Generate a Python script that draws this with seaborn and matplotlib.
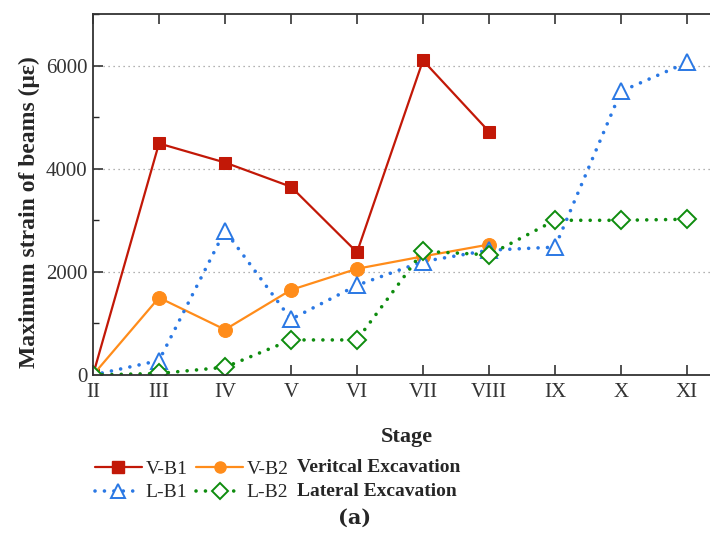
import matplotlib
matplotlib.use("Agg")
import matplotlib.pyplot as plt
import seaborn as sns
import pandas as pd
from matplotlib.lines import Line2D
from matplotlib.ticker import MultipleLocator

stages = ["II", "III", "IV", "V", "VI", "VII", "VIII", "IX", "X", "XI"]
v_b1 = [0, 4490, 4120, 3650, 2380, 6100, 4720]
v_b2 = [0, 1500, 880, 1650, 2060, 2300, 2530]
l_b1 = [0, 280, 2800, 1080, 1740, 2200, 2420, 2480, 5500, 6060]
l_b2 = [0, 30, 150, 680, 680, 2400, 2330, 3000, 3000, 3020]

sns.set_theme(style="ticks")
plt.rcParams['font.family'] = ['Liberation Serif', 'DejaVu Serif']

fig = plt.figure(figsize=(7.1, 5.33), dpi=100)
ax = fig.add_axes([93/710, 1-375/533, (720-93)/710, (375-14)/533])

c_red = "#C21807"
c_orange = "#FF8C1A"
c_blue = "#2A78E4"
c_green = "#0E8C0E"
dot = (0, (0.01, 2.6))

def mk(vals):
    return pd.DataFrame({"x": list(range(len(vals))), "y": vals})

sns.lineplot(data=mk(v_b1), x="x", y="y", ax=ax, color=c_red, lw=1.6,
             marker="s", markersize=9, markeredgecolor=c_red, markerfacecolor=c_red)
sns.lineplot(data=mk(v_b2), x="x", y="y", ax=ax, color=c_orange, lw=1.6,
             marker="o", markersize=10, markeredgecolor=c_orange, markerfacecolor=c_orange)
sns.lineplot(data=mk(l_b1), x="x", y="y", ax=ax, color=c_blue, lw=2.6, linestyle=dot,
             marker="^", markersize=11, markeredgecolor=c_blue, markerfacecolor="white", markeredgewidth=1.4)
sns.lineplot(data=mk(l_b2), x="x", y="y", ax=ax, color=c_green, lw=2.6, linestyle=dot,
             marker="D", markersize=9, markeredgecolor=c_green, markerfacecolor="white", markeredgewidth=1.4)

for ln in ax.get_lines()[2:]:
    ln.set_dash_capstyle("round")

ax.set_xlim(0, (720-93)/66)
ax.set_ylim(0, 7000)
ax.set_xticks(range(len(stages)))
ax.set_xticklabels(stages)
ax.set_yticks([0, 2000, 4000, 6000])
ax.yaxis.set_minor_locator(MultipleLocator(1000))
ax.tick_params(axis="x", direction="in", top=True, length=7, width=1.2, labelsize=15, pad=6)
ax.tick_params(axis="y", direction="in", length=7, width=1.2, labelsize=15, pad=4)
ax.tick_params(axis="y", which="minor", direction="in", length=4, width=1.0)
ax.tick_params(axis="both", colors="#333333")
ax.yaxis.grid(True, linestyle=(0, (1, 3)), color="#999999", lw=0.9)
for s in ["left", "bottom", "top"]:
    ax.spines[s].set_linewidth(1.3)
    ax.spines[s].set_color("#333333")
ax.spines["right"].set_visible(False)

ax.set_xlabel("Stage", fontsize=16, fontweight="bold", labelpad=18)
ax.set_ylabel("Maximum strain of beams (με)", fontsize=17, fontweight="bold")
ax.yaxis.set_label_coords(-0.084, 0.45)

handles = [
    Line2D([], [], color=c_red, lw=1.6, marker="s", markersize=8),
    Line2D([], [], color=c_blue, lw=2.6, linestyle=dot, dash_capstyle="round",
           marker="^", markersize=10, markerfacecolor="white", markeredgewidth=1.4),
    Line2D([], [], color=c_orange, lw=1.6, marker="o", markersize=8),
    Line2D([], [], color=c_green, lw=2.6, linestyle=dot, dash_capstyle="round",
           marker="D", markersize=8, markerfacecolor="white", markeredgewidth=1.4),
]
labels = ["V-B1", "L-B1", "V-B2", "L-B2"]
fig.legend(handles, labels, ncol=2, loc="upper left", bbox_to_anchor=(95/710, 1-460/533),
           frameon=False, fontsize=14, handlelength=2.4, handletextpad=0.2,
           columnspacing=0.45, labelspacing=0.32, borderaxespad=0, borderpad=0)

fig.text(297/710, 1-467/533, "Veritcal Excavation", fontsize=14, fontweight="bold", va="center")
fig.text(297/710, 1-492/533, "Lateral Excavation", fontsize=14, fontweight="bold", va="center")
fig.text(0.5, 1-518/533, "(a)", fontsize=15, fontweight="bold", ha="center", va="center",
         family=["DejaVu Serif"])

fig.savefig("out.png", dpi=100)
